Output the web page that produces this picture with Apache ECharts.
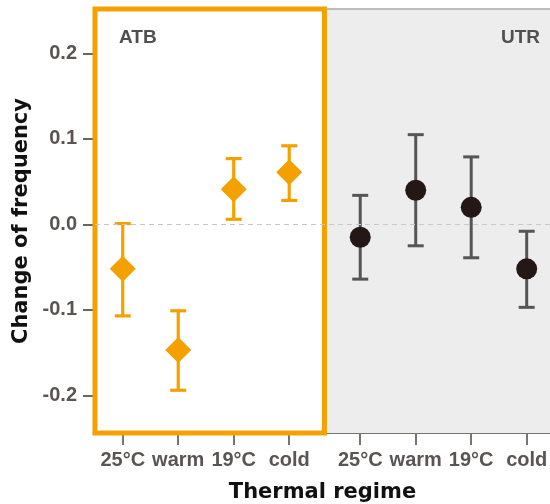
<!DOCTYPE html>
<html><head><meta charset="utf-8">
<script src="https://cdn.jsdelivr.net/npm/echarts@6/dist/echarts.min.js"></script>
<style>html,body{margin:0;padding:0;background:#fff}#c{width:550px;height:504px}</style>
</head><body><div id="c"></div>
<script>
// ---- data ----
const categories = ['25°C', 'warm', '19°C', 'cold'];
const panels = ['ATB', 'UTR'];
const atbMean = [-0.052, -0.147, 0.041, 0.061];
const atbLow  = [-0.107, -0.194, 0.006, 0.028];
const atbHigh = [0.001, -0.101, 0.077, 0.092];
const utrMean = [-0.015, 0.040, 0.020, -0.052];
const utrLow  = [-0.064, -0.025, -0.039, -0.097];
const utrHigh = [0.034, 0.105, 0.079, -0.008];
const yTickValues = [-0.2, -0.1, 0.0, 0.1, 0.2];

// ---- layout constants (axis space) ----
const X_MIN = 0.5, X_MAX = 8.7;
const GROUP2_OFFSET = 4.28;        // UTR group starts after a gap
const ATB_RIGHT = 4.635, UTR_LEFT = 4.68;
const Y_MIN = -0.244, Y_MAX = 0.252;

const ORANGE = '#F4A100';
const DARK = '#231815';
const BAR_GREY = '#555555';
const LABEL_GREY = '#5a5553';

const atbX = categories.map((c, i) => i + 1);
const utrX = categories.map((c, i) => i + 1 + GROUP2_OFFSET);
const allX = atbX.concat(utrX);
const allLabels = categories.concat(categories);

function labelFor(v) {
  let best = 0, bd = Infinity;
  allX.forEach((x, i) => { const d = Math.abs(x - v); if (d < bd) { bd = d; best = i; } });
  return bd < 0.05 ? allLabels[best] : '';
}

function errRenderer(color, lw) {
  return function (params, api) {
    const x = api.value(0), lo = api.value(1), hi = api.value(2);
    const pLo = api.coord([x, lo]), pHi = api.coord([x, hi]);
    const hw = 8;
    const style = { stroke: color, lineWidth: lw, fill: null };
    return { type: 'group', children: [
      { type: 'line', shape: { x1: pLo[0], y1: pLo[1], x2: pHi[0], y2: pHi[1] }, style: style },
      { type: 'line', shape: { x1: pLo[0] - hw, y1: pLo[1], x2: pLo[0] + hw, y2: pLo[1] }, style: style },
      { type: 'line', shape: { x1: pHi[0] - hw, y1: pHi[1], x2: pHi[0] + hw, y2: pHi[1] }, style: style }
    ]};
  };
}

const chart = echarts.init(document.getElementById('c'), null, { renderer: 'canvas' });
const labelFont = { fontFamily: 'Liberation Sans, Arial, sans-serif', fontWeight: 'bold', fontSize: 20, color: LABEL_GREY };
const titleFont = { fontFamily: 'DejaVu Sans, sans-serif', fontWeight: 'bold', fontSize: 21, color: '#111' };

chart.setOption({
  animation: false,
  backgroundColor: '#fff',
  grid: { left: 95, right: 0, top: 9, bottom: 71, containLabel: false, outerBoundsMode: 'none' },
  xAxis: {
    type: 'value', min: X_MIN, max: X_MAX,
    name: 'Thermal regime', nameLocation: 'middle', nameGap: 49,
    nameTextStyle: titleFont,
    splitLine: { show: false },
    axisLine: { show: true, onZero: false, lineStyle: { color: '#7a7470', width: 2 } },
    axisTick: { show: true, customValues: allX, length: 12, lineStyle: { color: '#7a7470', width: 2 } },
    axisLabel: Object.assign({ customValues: allX, margin: 17, formatter: labelFor }, labelFont)
  },
  yAxis: {
    type: 'value', min: Y_MIN, max: Y_MAX,
    name: 'Change of frequency', nameLocation: 'middle', nameGap: 57,
    nameTextStyle: titleFont,
    splitLine: { show: false },
    axisLine: { show: false, onZero: false },
    axisTick: { show: true, customValues: yTickValues, length: 12, lineStyle: { color: '#6a6462', width: 2 } },
    axisLabel: Object.assign({ customValues: yTickValues, margin: 18, formatter: v => v.toFixed(1) }, labelFont)
  },
  graphic: [
    { type: 'text', left: 119, top: 28, z: 100, style: { text: panels[0], font: 'bold 19px "Liberation Sans", Arial, sans-serif', fill: '#505050' } },
    { type: 'text', right: 10, top: 28, z: 100, style: { text: panels[1], font: 'bold 19px "Liberation Sans", Arial, sans-serif', fill: '#505050' } }
  ],
  series: [
    {
      type: 'line', data: [], z: -1, silent: true, clip: false,
      markArea: {
        silent: true,
        itemStyle: { color: '#ededed', borderWidth: 0 },
        data: [[{ xAxis: UTR_LEFT, yAxis: Y_MAX }, { xAxis: X_MAX, yAxis: Y_MIN }]]
      },
      markLine: {
        silent: true, symbol: 'none', label: { show: false },
        lineStyle: { color: '#a9a9a9', width: 1.5, type: 'solid' },
        data: [[{ coord: [UTR_LEFT, Y_MAX] }, { coord: [X_MAX, Y_MAX] }]]
      }
    },
    {
      type: 'line', data: [], z: 1, silent: true, clip: false,
      markLine: {
        silent: true, symbol: 'none', label: { show: false },
        lineStyle: { color: '#c8c8c8', width: 1, type: [5, 4] },
        data: [{ yAxis: 0 }]
      }
    },
    {
      type: 'custom', name: 'ATB err', z: 3,
      renderItem: errRenderer(ORANGE, 3.2),
      encode: { x: 0, y: [1, 2] },
      data: atbX.map((x, i) => [x, atbLow[i], atbHigh[i]])
    },
    {
      type: 'scatter', name: 'ATB', z: 4, symbol: 'diamond', symbolSize: 26,
      itemStyle: { color: ORANGE, opacity: 1 },
      data: atbX.map((x, i) => [x, atbMean[i]])
    },
    {
      type: 'custom', name: 'UTR err', z: 3,
      renderItem: errRenderer(BAR_GREY, 3),
      encode: { x: 0, y: [1, 2] },
      data: utrX.map((x, i) => [x, utrLow[i], utrHigh[i]])
    },
    {
      type: 'scatter', name: 'UTR', z: 4, symbol: 'circle', symbolSize: 21,
      itemStyle: { color: DARK, opacity: 1 },
      data: utrX.map((x, i) => [x, utrMean[i]])
    },
    {
      type: 'line', data: [], z: 6, silent: true, clip: false,
      markArea: {
        silent: true,
        itemStyle: { color: 'rgba(0,0,0,0)', borderColor: ORANGE, borderWidth: 5 },
        data: [[{ xAxis: X_MIN, yAxis: Y_MAX }, { xAxis: ATB_RIGHT, yAxis: Y_MIN }]]
      }
    }
  ]
});
</script>
</body></html>
